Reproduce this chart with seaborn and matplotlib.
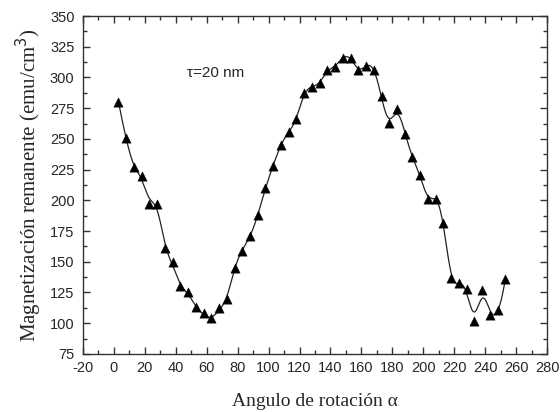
import numpy as np
import pandas as pd
import matplotlib
matplotlib.use("Agg")
import matplotlib.pyplot as plt
import seaborn as sns
from matplotlib.ticker import MultipleLocator

angle = [3, 8, 13, 18, 23, 28, 33, 38, 43, 48, 53, 58, 63, 68, 73, 78, 83, 88, 93, 98,
         103, 108, 113, 118, 123, 128, 133, 138, 143, 148, 153, 158, 163, 168, 173, 178,
         183, 188, 193, 198, 203, 208, 213, 218, 223, 228, 233, 238, 243, 248, 253]
mr = [280, 251, 227, 220, 197, 197, 161, 150, 130, 125, 113, 108, 104, 112, 120, 145,
      159, 171, 188, 210, 228, 245, 256, 266, 287, 292, 295.5, 306, 308.5, 316, 316,
      306, 309.5, 306, 285, 263, 274, 254, 235, 221, 201, 201, 181.5, 137, 133, 128,
      102, 127, 107, 111, 136]

x_ticks = list(range(-20, 281, 20))
y_ticks = list(range(75, 351, 25))

df = pd.DataFrame({"angle": angle, "mr": mr})

# smoothing curve derived from the data (penalized least squares on a fine grid)
step = 0.5
grid = np.arange(angle[0], angle[-1] + step / 2, step)
n = len(grid)
W = np.zeros(n)
Y = np.zeros(n)
idx = np.round((np.array(angle) - angle[0]) / step).astype(int)
W[idx] = 1.0
Y[idx] = np.array(mr)
D = np.diff(np.eye(n), n=3, axis=0)
lam = 600.0
f = np.linalg.solve(np.diag(W) + lam * D.T @ D, W * Y)
curve = pd.DataFrame({"angle": grid, "mr": f})

sns.set_theme(style="ticks")
plt.rcParams["font.family"] = ["Liberation Sans", "DejaVu Sans"]
plt.rcParams["axes.unicode_minus"] = False

fig = plt.figure(figsize=(5.6, 4.12), dpi=100)
ax = fig.add_axes([0.148, 0.141, 0.829, 0.820])

sns.lineplot(data=curve, x="angle", y="mr", ax=ax, color="#222222", lw=0.9,
             estimator=None, sort=False)
sns.scatterplot(data=df, x="angle", y="mr", ax=ax, marker="^", s=45, color="black",
                edgecolor="black", linewidth=0.3, zorder=3)

ax.set_xlim(-20, 280)
ax.set_ylim(75, 350)
ax.set_xticks(x_ticks)
ax.set_yticks(y_ticks)
ax.xaxis.set_minor_locator(MultipleLocator(10))
ax.yaxis.set_minor_locator(MultipleLocator(12.5))
ax.tick_params(which="both", direction="in", top=True, right=True, labelsize=10.5,
               color="#333333", width=1.0)
ax.tick_params(which="major", length=5)
ax.tick_params(which="minor", length=3)
ax.tick_params(axis="x", which="major", pad=5)
ax.tick_params(axis="y", which="major", pad=6)
for s in ax.spines.values():
    s.set_linewidth(1.0)
    s.set_color("#333333")

ax.set_xlabel("Angulo de rotación α", family=["Liberation Serif", "DejaVu Serif"],
              fontsize=14, labelpad=13)
ax.set_ylabel("Magnetización remanente (emu/cm$^3$)",
              family=["Liberation Serif", "DejaVu Serif"], fontsize=15, labelpad=4)
ax.text(47, 304, "τ=20 nm", fontsize=11, va="center", ha="left")

fig.savefig("out.png", dpi=100)
